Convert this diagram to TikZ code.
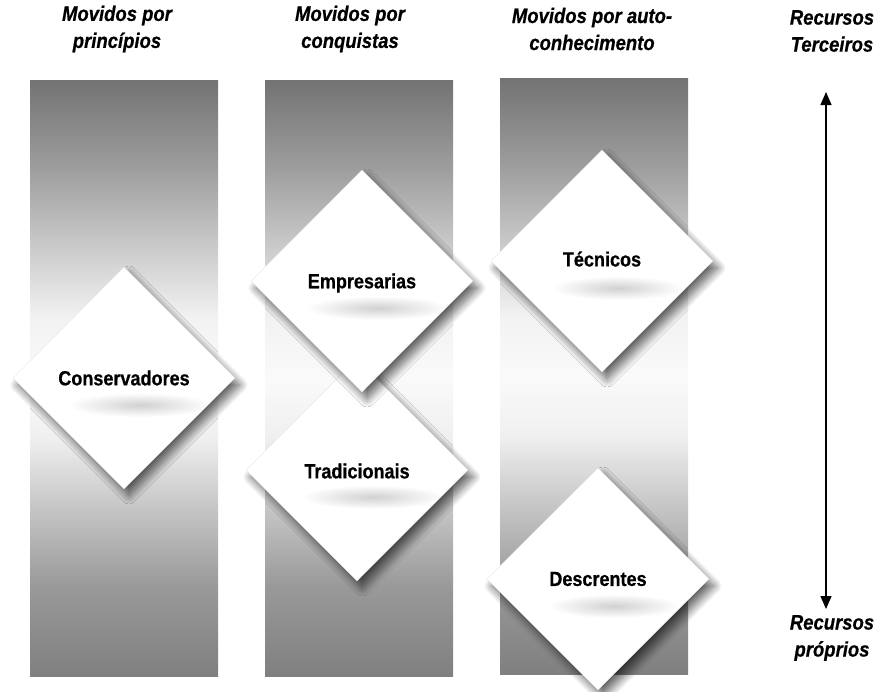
\documentclass[tikz,border=0pt]{standalone}
\usepackage{fontspec}
\setmainfont{Liberation Sans}
\newfontfamily\narrowbf[FakeStretch=0.88,FakeBold=0.6]{Liberation Sans}
\usetikzlibrary{shapes.geometric,shadows.blur,arrows.meta}
\pgfdeclareverticalshading{colshade}{100bp}{%
 color(0bp)=(black!50); color(25bp)=(black!50);
 color(32.5bp)=(black!40); color(40bp)=(black!20);
 color(45bp)=(black!6); color(50bp)=(black!2);
 color(55bp)=(black!5); color(60bp)=(black!18);
 color(67.5bp)=(black!38); color(75bp)=(black!55); color(100bp)=(black!55)}
\tikzset{
 colbox/.style={rectangle, minimum width=188pt, minimum height=596pt, inner sep=0pt, shading=colshade},
 dia/.style={diamond, aspect=1, minimum width=222pt, minimum height=222pt, inner sep=0pt,
   fill=white, draw=black!10, line width=0.4pt,
   blur shadow={shadow xshift=5pt, shadow yshift=-7pt, shadow blur radius=8pt, shadow blur steps=20, shadow opacity=62}},
 dtext/.style={font=\narrowbf\bfseries\fontsize{20.5}{24}\selectfont, inner sep=0pt},
 head/.style={align=center, font=\narrowbf\bfseries\itshape\fontsize{21}{27}\selectfont, inner sep=0pt},
 smear/.style={inner color=black!18, outer color=white}
}
\newcommand\diasmear[4]{% node, x, y, xradius
  \begin{scope}
    \clip ([shift={(1,0)}]#1.west) -- ([shift={(0,1)}]#1.north) -- ([shift={(-1,0)}]#1.east) -- ([shift={(0,-1)}]#1.south) -- cycle;
    \shade[smear] (#2,#3) ellipse (#4pt and 12pt);
  \end{scope}}
\begin{document}
\begin{tikzpicture}[x=1pt,y=-1pt]
\useasboundingbox (0,0) rectangle (888,691);
% columns
\node[colbox] (c1) at (124,378) {};
\node[colbox] (c2) at (359,378) {};
\node[colbox] (c3) at (594,376) {};
% headers
\node[head] (h1) at (117,29) {Movidos por\\princípios};
\node[head] (h2) at (350,29) {Movidos por\\conquistas};
\node[head] (h3) at (592,29) {Movidos por auto-\\conhecimento};
\node[head] (rt) at (832,31) {Recursos\\Terceiros};
\node[head] (rb) at (832,638) {Recursos\\próprios};
% diamonds
\node[dia] (d1) at (124,378) {};
\diasmear{d1}{140}{405}{72}
\node[dtext] (t1) at (d1.center) {Conservadores};
\node[dia] (d3) at (357,470) {};
\diasmear{d3}{373}{497}{72}
\node[dtext] (t3) at (357,471) {Tradicionais};
\node[dia] (d2) at (362,281) {};
\diasmear{d2}{378}{308}{72}
\node[dtext] (t2) at (362,283) {Empresarias};
\node[dia] (d4) at (602,261) {};
\diasmear{d4}{618}{288}{66}
\node[dtext] (t4) at (602,259) {Técnicos};
\node[dia] (d5) at (598,579) {};
\diasmear{d5}{614}{606}{66}
\node[dtext] (t5) at (598,579) {Descrentes};
% arrow
\coordinate (atop) at (826,92);
\coordinate (abot) at (826,609);
\draw[line width=1.4pt, {Triangle[length=13pt,width=11pt]}-{Triangle[length=13pt,width=11pt]}] (atop) -- (abot);
\end{tikzpicture}
\end{document}
